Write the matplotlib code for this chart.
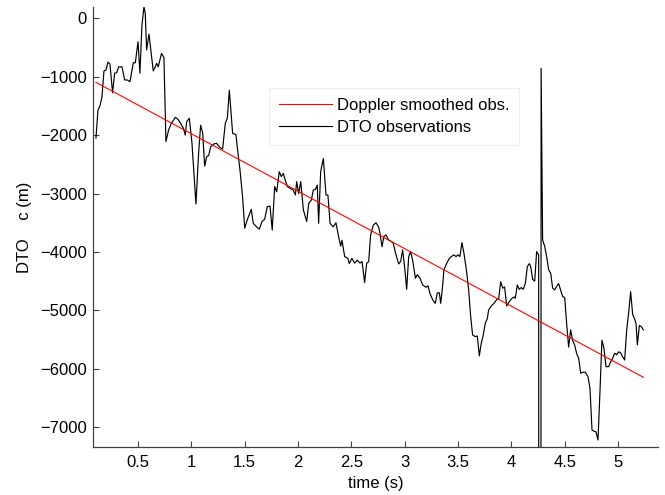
import matplotlib
matplotlib.use("Agg")
import matplotlib.pyplot as plt

plt.rcParams['font.family'] = ['Liberation Sans', 'DejaVu Sans']

# DTO observations (time in s, value in m)
obs_t = [0.106, 0.125, 0.143, 0.162, 0.181, 0.200, 0.218, 0.237, 0.262, 0.281,
         0.300, 0.319, 0.350, 0.375, 0.400, 0.425, 0.456, 0.475, 0.500, 0.518,
         0.537, 0.556, 0.568, 0.581, 0.603, 0.643, 0.662, 0.675, 0.690, 0.720,
         0.743, 0.762, 0.787, 0.812, 0.850, 0.875, 0.900, 0.925, 0.943, 0.956,
         0.981, 1.006, 1.043, 1.068, 1.087, 1.106, 1.125, 1.143, 1.162, 1.181,
         1.212, 1.237, 1.262, 1.293, 1.318, 1.337, 1.356, 1.387, 1.418, 1.430,
         1.456, 1.480, 1.500, 1.524, 1.562, 1.580, 1.612, 1.637, 1.662, 1.687,
         1.712, 1.737, 1.758, 1.781, 1.800, 1.824, 1.843, 1.862, 1.880, 1.900,
         1.925, 1.955, 1.975, 1.987, 2.006, 2.025, 2.050, 2.081, 2.100, 2.125,
         2.143, 2.162, 2.180, 2.193, 2.212, 2.237, 2.262, 2.280, 2.300, 2.330,
         2.355, 2.380, 2.400, 2.412, 2.437, 2.468, 2.480, 2.505, 2.530, 2.555,
         2.580, 2.600, 2.624, 2.643, 2.662, 2.680, 2.705, 2.730, 2.755, 2.768,
         2.787, 2.805, 2.824, 2.849, 2.874, 2.892, 2.918, 2.943, 2.962, 2.980,
         3.000, 3.018, 3.037, 3.055, 3.074, 3.100, 3.118, 3.143, 3.168, 3.199,
         3.218, 3.236, 3.262, 3.286, 3.305, 3.324, 3.337, 3.355, 3.367, 3.393,
         3.418, 3.437, 3.461, 3.480, 3.500, 3.517, 3.536, 3.555, 3.580, 3.599,
         3.618, 3.636, 3.661, 3.680, 3.699, 3.717, 3.736, 3.755, 3.774, 3.786,
         3.811, 3.836, 3.861, 3.880, 3.899, 3.918, 3.936, 3.955, 3.980, 4.005,
         4.024, 4.036, 4.055, 4.073, 4.092, 4.110, 4.130, 4.149, 4.168, 4.180,
         4.199, 4.218, 4.236, 4.255, 4.266, 4.278, 4.292, 4.311, 4.330, 4.349,
         4.368, 4.386, 4.405, 4.424, 4.442, 4.461, 4.480, 4.499, 4.517, 4.536,
         4.555, 4.574, 4.592, 4.611, 4.630, 4.649, 4.667, 4.692, 4.717, 4.736,
         4.755, 4.774, 4.792, 4.811, 4.829, 4.848, 4.867, 4.886, 4.911, 4.930,
         4.949, 4.967, 4.986, 5.005, 5.024, 5.042, 5.061, 5.080, 5.098, 5.117,
         5.136, 5.155, 5.168, 5.180, 5.199, 5.218, 5.236]
obs_v = [-2050, -1570, -1500, -1350, -900, -885, -750, -780, -1275, -940,
         -930, -830, -830, -1055, -1055, -1085, -760, -760, -400, -940,
         -115, 200, 85, -540, -270, -900, -830, -770, -830, -600,
         -670, -2110, -1910, -1800, -1695, -1730, -1800, -1880, -2000, -1770,
         -1710, -2140, -3180, -2310, -1830, -1960, -2530, -2370, -2350, -2200,
         -2150, -2140, -2200, -2240, -1800, -1710, -1230, -1970, -1990, -2200,
         -2600, -3050, -3595, -3450, -3270, -3510, -3570, -3610, -3480, -3440,
         -3225, -3215, -3625, -2880, -2970, -2625, -2710, -2655, -2770, -2880,
         -2910, -2940, -3025, -2795, -3000, -2795, -3280, -3480, -3170, -3110,
         -2940, -2930, -2855, -3510, -2625, -2400, -3025, -3025, -3510, -3570,
         -3500, -3740, -3900, -3800, -4080, -4110, -4200, -4110, -4190, -4140,
         -4190, -4165, -4525, -4195, -4165, -3710, -3540, -3500, -3570, -3680,
         -3910, -3730, -3710, -3795, -3820, -3850, -4050, -4205, -4160, -3965,
         -4280, -4640, -4080, -3995, -4140, -4450, -4390, -4450, -4565, -4605,
         -4580, -4710, -4820, -4880, -4700, -4700, -4880, -4580, -4310, -4195,
         -4110, -4080, -4050, -4080, -4050, -4080, -3840, -4025, -4340, -4650,
         -5110, -5420, -5450, -5440, -5780, -5565, -5420, -5220, -5140, -4995,
         -4925, -4880, -4820, -4800, -4510, -4620, -4600, -4925, -4850, -4795,
         -4770, -4795, -4565, -4640, -4610, -4640, -4540, -4250, -4200, -4250,
         -4470, -4500, -3995, -4050, -60000, -855, -3795, -3900, -4080, -4310,
         -4365, -4620, -4650, -4590, -4540, -4650, -4765, -4780, -5220, -5630,
         -5335, -5520, -5590, -5740, -5820, -6080, -6060, -6060, -6135, -6335,
         -7050, -7070, -7080, -7220, -6420, -5510, -5650, -5965, -5965, -5880,
         -5820, -5735, -5760, -5710, -5730, -5795, -5850, -5335, -5050, -4680,
         -5070, -5150, -5235, -5590, -5260, -5280, -5335]

# Doppler smoothed observations (straight trend)
dop_t = [0.106, 5.236]
dop_v = [-1096, -6146]

xticks = [0.5, 1, 1.5, 2, 2.5, 3, 3.5, 4, 4.5, 5]
xticklabels = ['0.5', '1', '1.5', '2', '2.5', '3', '3.5', '4', '4.5', '5']
yticks = [-7000, -6000, -5000, -4000, -3000, -2000, -1000, 0]
yticklabels = ['\u22127000', '\u22126000', '\u22125000', '\u22124000',
               '\u22123000', '\u22122000', '\u22121000', '0']

fig = plt.figure(figsize=(6.65, 4.95), dpi=100)
ax = fig.add_axes([0.1398, 0.0976, 0.8496, 0.8877])

ax.plot(dop_t, dop_v, color='#ff0000', lw=0.8, label='Doppler smoothed obs.', zorder=3)
ax.plot(obs_t, obs_v, color='black', lw=0.85, label='DTO observations', zorder=2)

ax.set_xlim(0.078, 5.373)
ax.set_ylim(-7335, 190)

ax.set_xticks(xticks)
ax.set_xticklabels(xticklabels)
ax.set_yticks(yticks)
ax.set_yticklabels(yticklabels)

for s in ['top', 'right']:
    ax.spines[s].set_visible(False)
for s in ['left', 'bottom']:
    ax.spines[s].set_color('#404040')
    ax.spines[s].set_linewidth(0.9)

ax.tick_params(axis='both', direction='in', length=4, width=0.8, color='#404040',
               labelsize=12, labelcolor='black')
ax.tick_params(axis='x', pad=6)
ax.tick_params(axis='y', pad=4.3)

ax.set_xlabel('time (s)', fontsize=12, labelpad=4.5)
ax.set_ylabel('DTO    c (m)', fontsize=12, labelpad=6)

leg = ax.legend(loc='upper left', bbox_to_anchor=(0.3115, 0.8163), borderaxespad=0,
                fontsize=12, handlelength=3.17, handletextpad=0.3, borderpad=0.6,
                labelspacing=0.4, fancybox=False, framealpha=1, edgecolor='#eeeeee')
leg.get_frame().set_linewidth(0.8)

fig.savefig('out.png', dpi=100)
